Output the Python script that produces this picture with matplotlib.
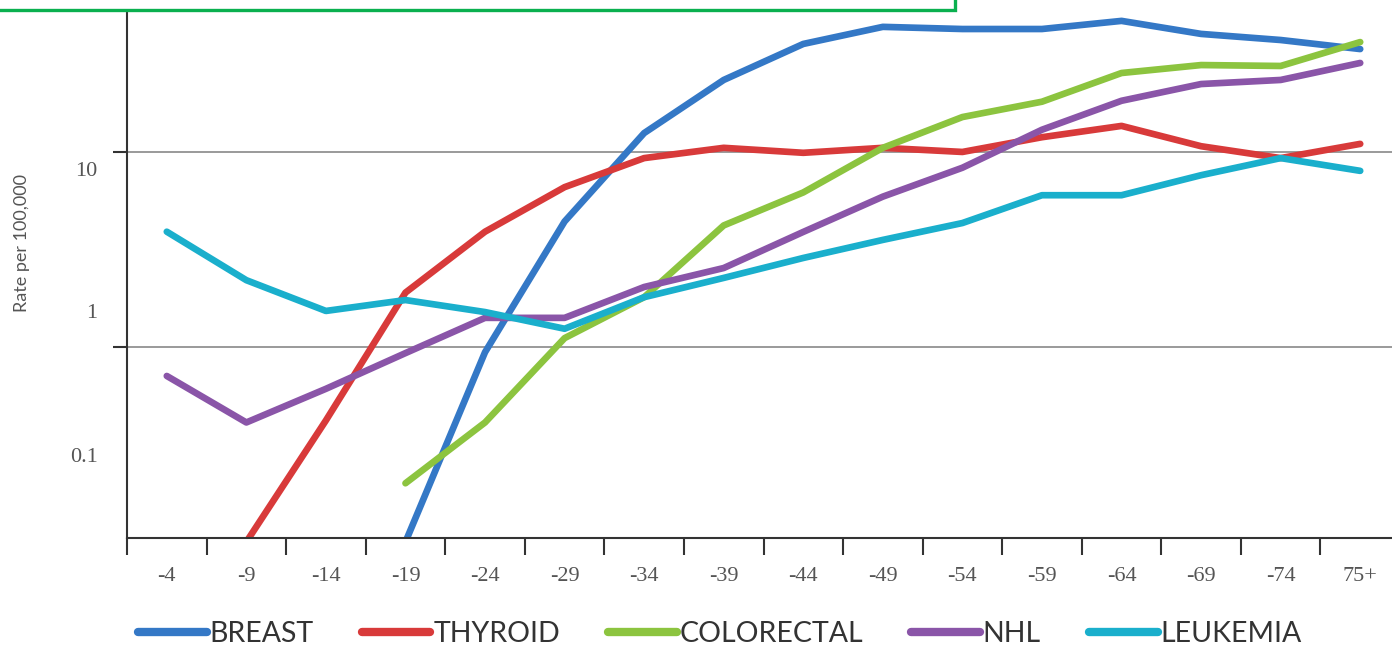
import matplotlib
matplotlib.use("Agg")
import matplotlib.pyplot as plt
from matplotlib.patches import Rectangle
from matplotlib.transforms import blended_transform_factory
import numpy as np

age_groups = ["-4", "-9", "-14", "-19", "-24", "-29", "-34", "-39", "-44", "-49",
              "-54", "-59", "-64", "-69", "-74", "75+"]

breast = [None, None, None, 0.1, 0.94, 4.4, 12.5, 23.4, 35.8, 43.8, 42.7, 42.7, 47.0, 40.3, 37.5, 33.7]
thyroid = [None, 0.1, 0.42, 1.9, 3.9, 6.6, 9.3, 10.5, 9.9, 10.5, 10.0, 11.9, 13.6, 10.7, 9.3, 11.0]
colorectal = [None, None, None, 0.2, 0.41, 1.11, 1.8, 4.2, 6.2, 10.5, 15.1, 18.1, 25.4, 27.9, 27.6, 36.6]
nhl = [0.71, 0.41, 0.61, 0.93, 1.41, 1.41, 2.03, 2.54, 3.89, 5.9, 8.3, 13.0, 18.3, 22.3, 23.4, 28.6]
leukemia = [3.9, 2.2, 1.53, 1.74, 1.51, 1.24, 1.8, 2.26, 2.86, 3.54, 4.32, 6.0, 6.0, 7.6, 9.3, 8.0]

series_names = ["BREAST", "THYROID", "COLORECTAL", "NHL", "LEUKEMIA"]
series_values = [breast, thyroid, colorectal, nhl, leukemia]
colors = ["#3478c6", "#d83a3a", "#8cc43f", "#8a55a8", "#1aafcc"]

y_gridlines = [1, 10]
y_label_texts = ["10", "1", "0.1"]
y_label_values = [7.9, 1.49, 0.27]

fig = plt.figure(figsize=(13.92, 6.49), dpi=100)
W, H = 1392, 649
left_px, right_px, top_px, bottom_px = 127, 1400, 12, 538
ax = fig.add_axes([left_px / W, 1 - bottom_px / H, (right_px - left_px) / W, (bottom_px - top_px) / H])

x = np.arange(len(age_groups))
for name, vals, c in zip(series_names, series_values, colors):
    v = np.array([np.nan if a is None else a for a in vals], dtype=float)
    ax.plot(x, v, color=c, lw=4.8, solid_capstyle="round", solid_joinstyle="round", label=name)

ax.set_yscale("log")
ax.set_ylim(0.1048, 52.2)
ax.set_xlim(-0.5, 15.5)

for g in y_gridlines:
    ax.axhline(g, color="#9a9a9a", lw=1.4, zorder=0)

ax.set_yticks(y_gridlines)
ax.set_yticklabels([])
ax.yaxis.set_minor_locator(matplotlib.ticker.NullLocator())
ax.tick_params(axis="y", which="major", direction="out", length=10, width=1.5, color="#333333")

ax.set_xticks(np.arange(-0.5, 15.0, 1.0))
ax.set_xticklabels([])
ax.set_xticks(x, minor=True)
ax.set_xticklabels(age_groups, minor=True, fontfamily="Liberation Serif", fontsize=16, color="#555555")
ax.tick_params(axis="x", which="major", direction="out", length=12, width=1.5, color="#333333")
ax.tick_params(axis="x", which="minor", length=0, pad=21)

for s in ["top", "right"]:
    ax.spines[s].set_visible(False)
for s in ["left", "bottom"]:
    ax.spines[s].set_color("#333333")
    ax.spines[s].set_linewidth(1.5)

trans = blended_transform_factory(ax.transAxes, ax.transData)
for t, v in zip(y_label_texts, y_label_values):
    ax.text(-0.023, v, t, transform=trans, ha="right", va="center",
            fontfamily="Liberation Serif", fontsize=16, color="#555555")

fig.text(22 / W, 1 - 243 / H, "Rate per 100,000", rotation=90, ha="center", va="center",
         fontfamily="Lato", fontsize=13, color="#555555")

leg = fig.legend(loc="center left", bbox_to_anchor=(124 / W, 1 - 634 / H), ncol=5, frameon=False,
                 handlelength=2.4, handletextpad=0.1, columnspacing=1.7, borderpad=0.0,
                 prop={"family": "Lato", "size": 20.5})
for t in leg.get_texts():
    t.set_color("#333333")
for h in leg.legend_handles:
    h.set_linewidth(6)

fig.add_artist(Rectangle((-5 / W, 1 - 10 / H), 960 / W, 20 / H, transform=fig.transFigure,
                         fill=False, edgecolor="#0ab04f", lw=2.4, clip_on=False))

fig.savefig("out.png", dpi=100)
